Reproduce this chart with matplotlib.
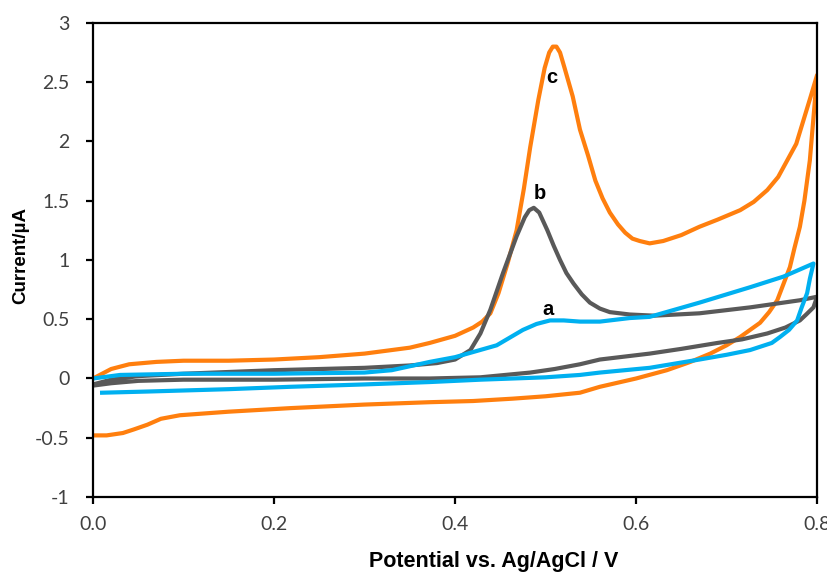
import numpy as np
import matplotlib.pyplot as plt

# curve c (orange): forward scan then reverse scan
c_fwd_v = [0.0, 0.02, 0.04, 0.07, 0.1, 0.15, 0.2, 0.25, 0.3, 0.35, 0.372, 0.4, 0.42, 0.43,
           0.439, 0.448, 0.458, 0.468, 0.476, 0.483, 0.492, 0.499, 0.504, 0.508, 0.512, 0.516,
           0.521, 0.53, 0.538, 0.547, 0.555, 0.563, 0.571, 0.58, 0.588, 0.596, 0.604, 0.615,
           0.63, 0.65, 0.67, 0.69, 0.715, 0.73, 0.745, 0.757, 0.767, 0.777, 0.785, 0.793, 0.8]
c_fwd_i = [0.0, 0.08, 0.12, 0.14, 0.15, 0.15, 0.16, 0.18, 0.21, 0.26, 0.3, 0.36, 0.43, 0.48,
           0.55, 0.72, 0.97, 1.25, 1.6, 1.95, 2.35, 2.62, 2.75, 2.8, 2.8, 2.75,
           2.62, 2.38, 2.1, 1.88, 1.67, 1.52, 1.4, 1.3, 1.23, 1.18, 1.16, 1.14,
           1.16, 1.21, 1.28, 1.34, 1.42, 1.49, 1.59, 1.7, 1.84, 1.98, 2.18, 2.38, 2.56]
c_rev_v = [0.8, 0.796, 0.792, 0.786, 0.781, 0.775, 0.77, 0.763, 0.756, 0.747, 0.737, 0.715,
           0.7, 0.682, 0.66, 0.634, 0.6, 0.56, 0.538, 0.5, 0.464, 0.42, 0.372, 0.3, 0.218,
           0.15, 0.096, 0.075, 0.06, 0.045, 0.033, 0.015, 0.0]
c_rev_i = [2.56, 2.2, 1.84, 1.5, 1.28, 1.1, 0.94, 0.8, 0.66, 0.56, 0.47, 0.35,
           0.28, 0.21, 0.14, 0.07, 0.0, -0.07, -0.12, -0.15, -0.17, -0.19, -0.2, -0.22, -0.25,
           -0.28, -0.31, -0.34, -0.39, -0.43, -0.46, -0.48, -0.48]

# curve b (grey)
b_fwd_v = [0.0, 0.02, 0.05, 0.1, 0.2, 0.3, 0.35, 0.38, 0.4, 0.417, 0.428, 0.439, 0.453, 0.468,
           0.477, 0.482, 0.487, 0.493, 0.502, 0.509, 0.516, 0.523, 0.531, 0.54, 0.549, 0.56,
           0.571, 0.593, 0.62, 0.67, 0.726, 0.781, 0.8]
b_fwd_i = [-0.05, -0.01, 0.02, 0.04, 0.07, 0.09, 0.11, 0.13, 0.16, 0.24, 0.38, 0.58, 0.89, 1.2,
           1.36, 1.42, 1.44, 1.4, 1.25, 1.12, 1.0, 0.89, 0.8, 0.71, 0.64, 0.59,
           0.56, 0.54, 0.53, 0.55, 0.6, 0.66, 0.69]
b_rev_v = [0.8, 0.796, 0.788, 0.781, 0.765, 0.745, 0.717, 0.69, 0.65, 0.615, 0.56, 0.538,
           0.51, 0.483, 0.428, 0.372, 0.3, 0.2, 0.1, 0.05, 0.02, 0.0]
b_rev_i = [0.69, 0.6, 0.54, 0.49, 0.43, 0.38, 0.33, 0.3, 0.25, 0.21, 0.16, 0.12,
           0.08, 0.05, 0.01, 0.0, 0.0, -0.01, -0.01, -0.02, -0.04, -0.06]

# curve a (blue)
a_fwd_v = [0.0, 0.03, 0.1, 0.2, 0.3, 0.33, 0.372, 0.4, 0.446, 0.475, 0.49, 0.505, 0.52, 0.538,
           0.56, 0.593, 0.615, 0.67, 0.726, 0.763, 0.796]
a_fwd_i = [0.0, 0.03, 0.04, 0.04, 0.05, 0.07, 0.14, 0.18, 0.28, 0.41, 0.46, 0.49, 0.49, 0.48,
           0.48, 0.51, 0.52, 0.64, 0.77, 0.86, 0.97]
a_rev_v = [0.796, 0.792, 0.789, 0.783, 0.778, 0.769, 0.759, 0.75, 0.726, 0.7, 0.67, 0.615,
           0.56, 0.538, 0.5, 0.428, 0.372, 0.3, 0.218, 0.15, 0.06, 0.01]
a_rev_i = [0.97, 0.84, 0.72, 0.6, 0.49, 0.41, 0.35, 0.3, 0.24, 0.2, 0.16, 0.09,
           0.05, 0.03, 0.01, -0.01, -0.03, -0.05, -0.07, -0.09, -0.11, -0.12]

labels = ['a', 'b', 'c']
label_v = [0.503, 0.494, 0.507]
label_i = [0.58, 1.56, 2.54]

orange = '#FF7F0E'
grey = '#595959'
blue = '#00B0F0'

fig = plt.figure(figsize=(8.27, 5.73), dpi=100)
ax = fig.add_axes([0.1125, 0.1326, 0.8755, 0.8274])

lw = 3.0
ax.plot(c_fwd_v + c_rev_v, c_fwd_i + c_rev_i, color=orange, lw=lw, solid_joinstyle='round')
ax.plot(b_fwd_v + b_rev_v, b_fwd_i + b_rev_i, color=grey, lw=lw, solid_joinstyle='round')
ax.plot(a_fwd_v + a_rev_v, a_fwd_i + a_rev_i, color=blue, lw=lw, solid_joinstyle='round')

for lab, v, i in zip(labels, label_v, label_i):
    ax.text(v, i, lab, fontsize=14.5, fontweight='bold', ha='center', va='center',
            family='Liberation Sans')

ax.set_xlim(0, 0.8)
ax.set_ylim(-1, 3)
ax.set_xticks([0.0, 0.2, 0.4, 0.6, 0.8])
ax.set_xticklabels(['0.0', '0.2', '0.4', '0.6', '0.8'])
ax.set_yticks([-1, -0.5, 0, 0.5, 1, 1.5, 2, 2.5, 3])
ax.set_yticklabels(['-1', '-0.5', '0', '0.5', '1', '1.5', '2', '2.5', '3'])
for lab in ax.get_xticklabels() + ax.get_yticklabels():
    lab.set_family('Lato')
    lab.set_fontsize(14)
    lab.set_color('#404040')
ax.tick_params(direction='out', length=5, width=1.6)
ax.tick_params(axis='y', pad=12)
ax.tick_params(axis='x', pad=9)
for s in ax.spines.values():
    s.set_linewidth(1.6)

ax.set_xlabel('Potential vs. Ag/AgCl / V', fontsize=15.5, fontweight='bold',
              family='Liberation Sans', va='center')
ax.xaxis.set_label_coords(0.554, -0.135)
ax.set_ylabel('Current/µA', fontsize=13.5, fontweight='bold',
              family='Liberation Sans', va='center')
ax.yaxis.set_label_coords(-0.1, 0.51)

fig.savefig('out.png', dpi=100)
